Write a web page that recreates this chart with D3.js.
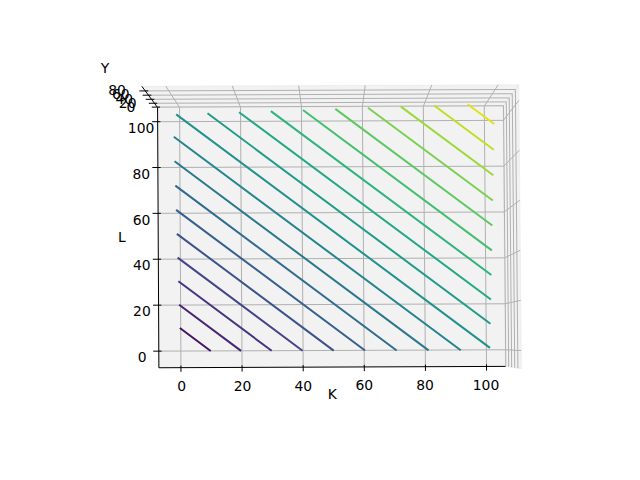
<!DOCTYPE html>
<html>
<head>
<meta charset="utf-8">
<script src="https://cdn.jsdelivr.net/npm/d3@7"></script>
<style>
  body { margin: 0; background: #fff; }
  svg text { font-family: "DejaVu Sans", sans-serif; font-size: 13.9px; fill: #000; }
</style>
</head>
<body>
<div id="chart"></div>
<script>
// ---- data ----
var kRange = [0, 99];          // K grid
var lRange = [0, 99];          // L grid
var coefK = 0.5, coefL = 0.5;  // Y = 0.5 K + 0.5 L
var levels = [5, 10, 15, 20, 25, 30, 35, 40, 45, 50, 55, 60, 65, 70, 75, 80, 85, 90, 95];
var levelRange = [0, 100];     // colour normalisation
var kTicks = [0, 20, 40, 60, 80, 100];
var lTicks = [0, 20, 40, 60, 80, 100];
var yTicks = [0, 20, 40, 60, 80];
var yRange = [0, 99];

var width = 640, height = 480;

// axis limits (x/y with 5% margin, z without)
var kLim = [kRange[0] - 0.05 * (kRange[1] - kRange[0]), kRange[1] + 0.05 * (kRange[1] - kRange[0])],
  lLim = [lRange[0] - 0.05 * (lRange[1] - lRange[0]), lRange[1] + 0.05 * (lRange[1] - lRange[0])],
  zLim = yRange.slice();

// pane extents and deltas
function padded(lim) {
  var d = (lim[1] - lim[0]) / 12;
  return { lo: lim[0] - d / 4, hi: lim[1] + d / 4, delta: d, mid: (lim[0] + lim[1]) / 2 };
}
var kb = padded(kLim), lb = padded(lLim), zb = padded(zLim);

// ---- view ----
var elev = 88, azim = -90.3, dist = 12;
var wx = d3.scaleLinear().domain(kLim).range([0, 1]),
  wy = d3.scaleLinear().domain(lLim).range([0, 1]),
  wz = d3.scaleLinear().domain(zLim).range([0, 1]);

var er = elev * Math.PI / 180, ar = azim * Math.PI / 180;
var eye = [0.5 + Math.cos(er) * Math.cos(ar) * dist,
  0.5 + Math.cos(er) * Math.sin(ar) * dist,
  0.5 + Math.sin(er) * dist];

function sub(a, b) { return [a[0] - b[0], a[1] - b[1], a[2] - b[2]]; }
function dot(a, b) { return a[0] * b[0] + a[1] * b[1] + a[2] * b[2]; }
function cross(a, b) { return [a[1] * b[2] - a[2] * b[1], a[2] * b[0] - a[0] * b[2], a[0] * b[1] - a[1] * b[0]]; }
function norm(a) { var m = Math.sqrt(dot(a, a)); return [a[0] / m, a[1] / m, a[2] / m]; }

var nv = norm(sub(eye, [0.5, 0.5, 0.5])),
  uv = norm(cross([0, 0, 1], nv)),
  vv = cross(nv, uv);

// screen scales (keep the floor size fixed whatever the distance)
var zoomK = (dist + 0.52) / 10.52;
var sx = d3.scaleLinear().domain([0, 0.1]).range([331.3, 331.3 + 349.6 * zoomK]),
  sy = d3.scaleLinear().domain([0, 0.1]).range([232.2, 232.2 - 263 * zoomK]);

function project(k, l, z) {
  var d = sub([wx(k), wy(l), wz(z)], eye);
  var depth = -dot(nv, d);
  return [sx(dot(uv, d) / depth), sy(dot(vv, d) / depth)];
}

var line = d3.line();
function path3(pts) { return line(pts.map(function (p) { return project(p[0], p[1], p[2]); })); }

var svg = d3.select("#chart").append("svg")
  .attr("width", width)
  .attr("height", height);

svg.append("rect").attr("width", width).attr("height", height).attr("fill", "#fff");

// ---- panes ----
var panes = [
  [[kb.lo, lb.lo, zb.lo], [kb.hi, lb.lo, zb.lo], [kb.hi, lb.hi, zb.lo], [kb.lo, lb.hi, zb.lo]], // floor
  [[kb.lo, lb.hi, zb.lo], [kb.hi, lb.hi, zb.lo], [kb.hi, lb.hi, zb.hi], [kb.lo, lb.hi, zb.hi]], // back
  [[kb.hi, lb.lo, zb.lo], [kb.hi, lb.hi, zb.lo], [kb.hi, lb.hi, zb.hi], [kb.hi, lb.lo, zb.hi]]  // right
];
svg.append("g").selectAll("path")
  .data(panes)
  .join("path")
  .attr("d", function (d) { return path3(d.concat([d[0]])) + "Z"; })
  .attr("fill", "rgba(230,230,230,0.5)")
  .attr("stroke", "rgba(230,230,230,0.5)")
  .attr("stroke-width", 1);

// ---- grid ----
var grid = svg.append("g")
  .attr("fill", "none")
  .attr("stroke", "#b0b0b0")
  .attr("stroke-width", 1);

grid.selectAll(".gk")
  .data(kTicks)
  .join("path")
  .attr("d", function (k) { return path3([[k, lb.lo, zb.lo], [k, lb.hi, zb.lo], [k, lb.hi, zb.hi]]); });

grid.selectAll(".gl")
  .data(lTicks)
  .join("path")
  .attr("d", function (l) { return path3([[kb.lo, l, zb.lo], [kb.hi, l, zb.lo], [kb.hi, l, zb.hi]]); });

grid.selectAll(".gz")
  .data(yTicks)
  .join("path")
  .attr("d", function (z) { return path3([[kb.lo, lb.hi, z], [kb.hi, lb.hi, z], [kb.hi, lb.lo, z]]); });

// ---- axis lines ----
var axes = svg.append("g").attr("stroke", "#000").attr("stroke-width", 1).attr("fill", "none");
axes.append("path").attr("d", path3([[kb.hi, lb.lo, zb.lo], [kb.lo, lb.lo, zb.lo]]));
axes.append("path").attr("d", path3([[kb.lo, lb.hi, zb.lo], [kb.lo, lb.lo, zb.lo]]));
axes.append("path").attr("d", path3([[kb.lo, lb.hi, zb.lo], [kb.lo, lb.hi, zb.hi]]));

// tick marks
axes.selectAll(".tk").data(kTicks).join("path")
  .attr("d", function (k) { return path3([[k, lb.lo + 0.1 * lb.delta, zb.lo], [k, lb.lo - 0.2 * lb.delta, zb.lo]]); });
axes.selectAll(".tl").data(lTicks).join("path")
  .attr("d", function (l) { return path3([[kb.lo + 0.1 * kb.delta, l, zb.lo], [kb.lo - 0.2 * kb.delta, l, zb.lo]]); });
axes.selectAll(".tz").data(yTicks).join("path")
  .attr("d", function (z) { return path3([[kb.lo + 0.1 * kb.delta, lb.hi, z], [kb.lo - 0.2 * kb.delta, lb.hi, z]]); });

// ---- tick labels (ha center, va top) ----
var tf = 0.628, lf = 1.38, asc = 10.6;
var labels = svg.append("g").attr("text-anchor", "middle");

labels.selectAll(".lk").data(kTicks).join("text")
  .each(function (k) {
    var p = project(k, lb.lo - tf * lb.delta, zb.lo - tf * zb.delta);
    d3.select(this).attr("x", p[0]).attr("y", p[1] + asc);
  })
  .text(function (d) { return d; });

labels.selectAll(".ll").data(lTicks).join("text")
  .each(function (l) {
    var p = project(kb.lo - tf * kb.delta, l, zb.lo - tf * zb.delta);
    d3.select(this).attr("x", p[0]).attr("y", p[1] + asc);
  })
  .text(function (d) { return d; });

labels.selectAll(".lz").data(yTicks).join("text")
  .each(function (z) {
    var p = project(kb.lo - 0.95 * kb.delta, lb.hi + 0.3 * lb.delta, z);
    d3.select(this).attr("x", p[0]).attr("y", p[1] + asc);
  })
  .text(function (d) { return d; });

// axis labels (centered)
var axisLabels = [
  { text: "K", pos: [kb.mid, lb.lo - lf * lb.delta, zb.lo - lf * zb.delta] },
  { text: "L", pos: [kb.lo - lf * kb.delta, lb.mid, zb.lo - lf * zb.delta] },
  { text: "Y", pos: [kb.lo - 1.56 * kb.delta, lb.hi + 1.28 * lb.delta, zb.mid] }
];
labels.selectAll(".ax").data(axisLabels).join("text")
  .each(function (d) {
    var p = project(d.pos[0], d.pos[1], d.pos[2]);
    d3.select(this).attr("x", p[0]).attr("y", p[1] + 3.6);
  })
  .text(function (d) { return d.text; });

// ---- contour lines ----
var color = d3.scaleSequential(d3.interpolateViridis).domain(levelRange);

function segment(v) {
  // K*coefK + L*coefL = v, clipped to the grid box
  var kA = kRange[0], lA = (v - coefK * kA) / coefL;
  if (lA > lRange[1]) { lA = lRange[1]; kA = (v - coefL * lA) / coefK; }
  var lB = lRange[0], kB = (v - coefL * lB) / coefK;
  if (kB > kRange[1]) { kB = kRange[1]; lB = (v - coefK * kB) / coefL; }
  return [[kA, lA, v], [kB, lB, v]];
}

svg.append("g").attr("fill", "none").attr("stroke-width", 2)
  .selectAll("path")
  .data(levels)
  .join("path")
  .attr("stroke", function (v) { return color(v); })
  .attr("d", function (v) { return path3(segment(v)); });
</script>
</body>
</html>
